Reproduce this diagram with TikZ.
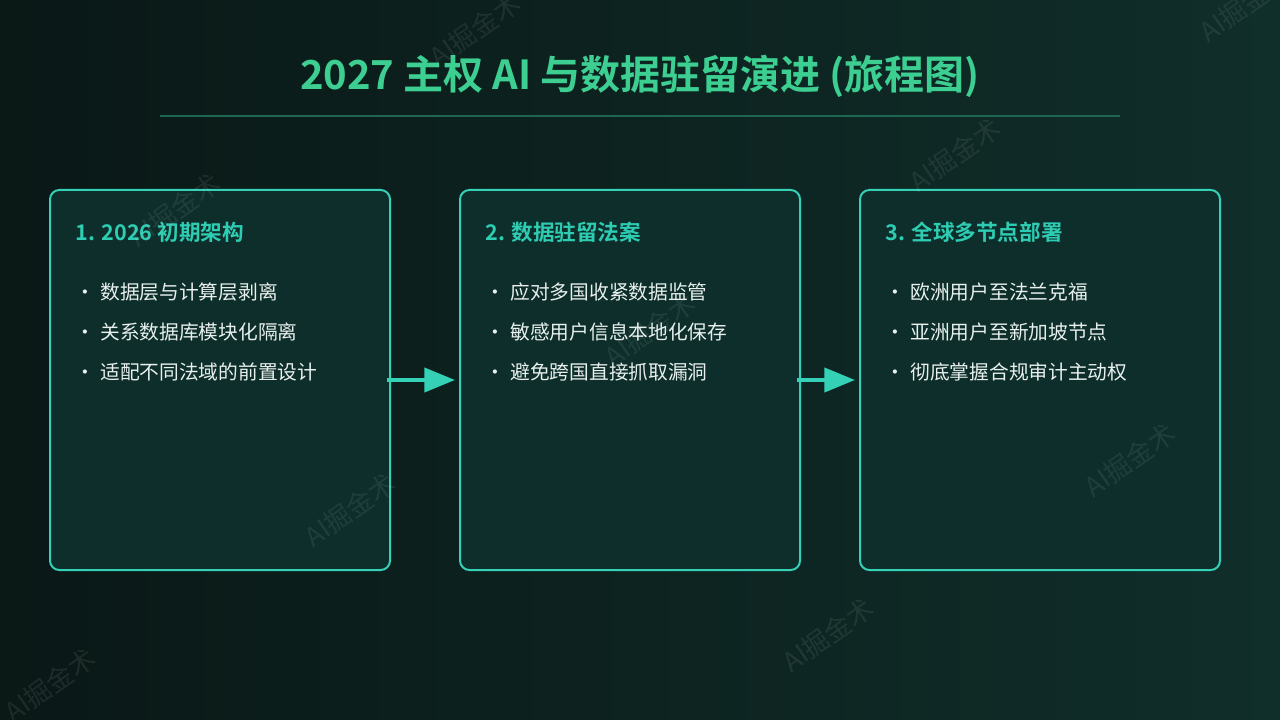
\documentclass[tikz,border=0pt]{standalone}
\usepackage{fontspec}
\setmainfont{Noto Sans CJK SC}[BoldFont={Noto Sans CJK SC Bold}]
\usetikzlibrary{arrows.meta,positioning}
\definecolor{bgleft}{HTML}{0A1816}
\definecolor{bgright}{HTML}{102E2A}
\definecolor{cardfill}{HTML}{0D2E2A}
\definecolor{cardline}{HTML}{34D1B6}
\definecolor{titlegreen}{HTML}{3CCF91}
\definecolor{rulegreen}{HTML}{1E6650}
\definecolor{headteal}{HTML}{2ECCB2}
\definecolor{itemtext}{HTML}{E8F0EE}

\begin{document}
\begin{tikzpicture}[x=0.75pt,y=-0.75pt,
  stage/.style={draw=cardline,line width=1.5pt,fill=cardfill,rounded corners=7pt,
    minimum height=285pt,inner sep=0pt},
  head/.style={anchor=west,inner sep=0pt,text=headteal,font=\fontsize{16.2}{19}\selectfont\bfseries},
  item/.style={anchor=west,inner sep=0pt,text=itemtext,font=\fontsize{14.8}{17}\selectfont},
  flow/.style={draw=cardline,line width=3pt,-{Triangle[length=23pt,width=18pt]},
    shorten <=-3pt,shorten >=3pt},
  wmark/.style={text=white,opacity=0.08,rotate=35,font=\fontsize{20}{22}\selectfont}]
\useasboundingbox (0,0) rectangle (1280,720);
\shade[left color=bgleft,right color=bgright] (0,0) rectangle (1280,720);
% \draw[help lines] (0,0) grid[step=100] (1280,720);
\node (title) [text=titlegreen,font=\fontsize{30}{35}\selectfont\bfseries] at (640,76)
  {2027 主权 AI 与数据驻留演进 (旅程图)};
\draw[rulegreen,line width=1.5pt] (160,116) -- (1120,116);
%
\node (s1) [stage,minimum width=255pt] at (220,380) {};
\node (s2) [stage,minimum width=255pt] at (630,380) {};
\node (s3) [stage,minimum width=270pt] at (1040,380) {};
%
\path[flow] (s1.east) -- (s2.west);
\path[flow] (s2.east) -- (s3.west);
%
\node (h1) [head] at (75,232) {1. 2026 初期架构};
\node (i11) [item] at (75,292) {\textbullet\hspace{4pt}数据层与计算层剥离};
\node (i12) [item] at (75,332) {\textbullet\hspace{4pt}关系数据库模块化隔离};
\node (i13) [item] at (75,372) {\textbullet\hspace{4pt}适配不同法域的前置设计};
%
\node (h2) [head] at (485,232) {2. 数据驻留法案};
\node (i21) [item] at (485,292) {\textbullet\hspace{4pt}应对多国收紧数据监管};
\node (i22) [item] at (485,332) {\textbullet\hspace{4pt}敏感用户信息本地化保存};
\node (i23) [item] at (485,372) {\textbullet\hspace{4pt}避免跨国直接抓取漏洞};
%
\node (h3) [head] at (885,232) {3. 全球多节点部署};
\node (i31) [item] at (885,292) {\textbullet\hspace{4pt}欧洲用户至法兰克福};
\node (i32) [item] at (885,332) {\textbullet\hspace{4pt}亚洲用户至新加坡节点};
\node (i33) [item] at (885,372) {\textbullet\hspace{4pt}彻底掌握合规审计主动权};
%
\node (w1) [wmark] at (475,30) {AI掘金术};
\node (w2) [wmark] at (175,210) {AI掘金术};
\node (w3) [wmark] at (955,155) {AI掘金术};
\node (w4) [wmark] at (650,330) {AI掘金术};
\node (w5) [wmark] at (350,510) {AI掘金术};
\node (w6) [wmark] at (1130,460) {AI掘金术};
\node (w7) [wmark] at (828,635) {AI掘金术};
\node (w8) [wmark] at (50,685) {AI掘金术};
\node (w9) [wmark] at (1245,5) {AI掘金术};
\end{tikzpicture}
\end{document}
